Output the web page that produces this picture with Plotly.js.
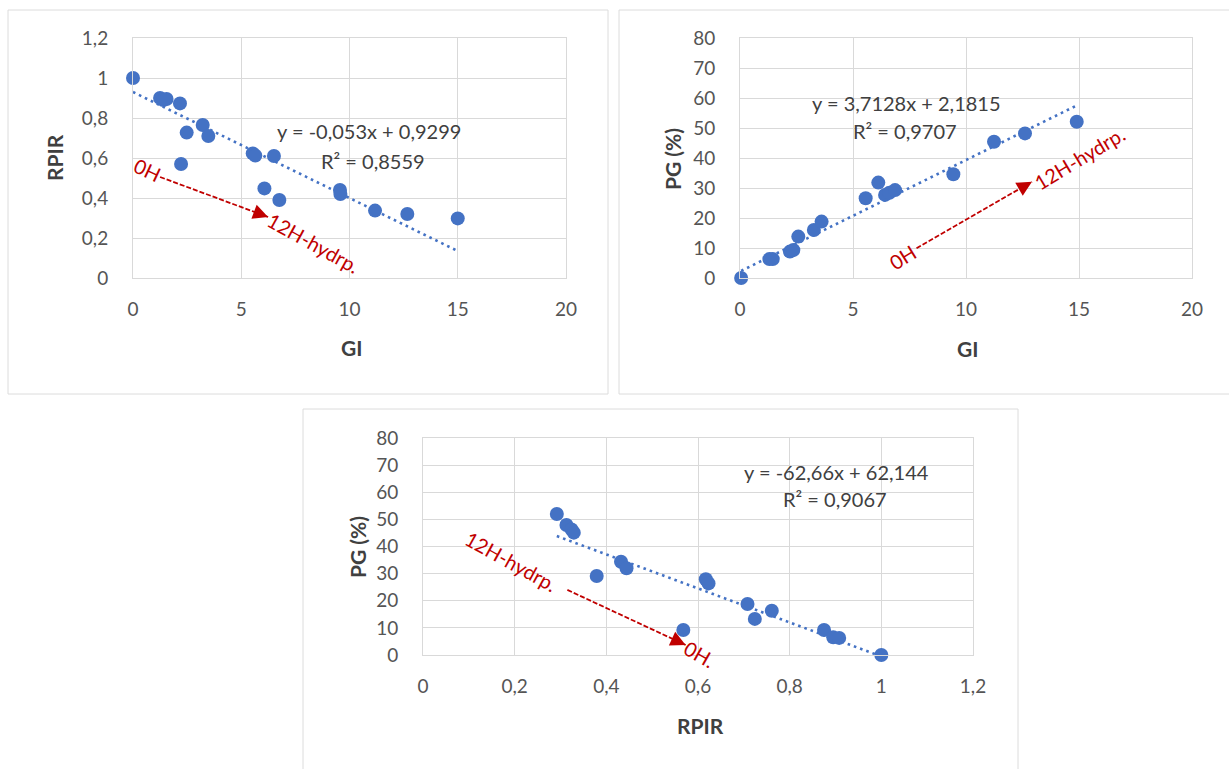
<!DOCTYPE html>
<html>
<head>
<meta charset="utf-8">
<script src="https://cdn.plot.ly/plotly-3.0.1.min.js"></script>
<style>html,body{margin:0;padding:0;background:#fff;}#chart{width:1229px;height:769px;}</style>
</head>
<body>
<div id="chart"></div>
<script>
// ---- Panel 1: GI vs RPIR ----
var gi1 = [0, 1.25, 1.4, 1.55, 2.17, 2.48, 3.22, 3.48, 2.22, 5.53, 5.65, 6.51, 6.07, 6.76, 9.56, 9.58, 11.18, 12.67, 15.0];
var rpir1 = [1.0, 0.9, 0.89, 0.895, 0.873, 0.727, 0.765, 0.71, 0.57, 0.623, 0.612, 0.61, 0.448, 0.39, 0.44, 0.42, 0.337, 0.32, 0.298];
var trend1 = {slope: -0.053, intercept: 0.9299, eq: "y = -0,053x + 0,9299", r2: "R² = 0,8559"};

// ---- Panel 2: GI vs PG ----
var gi2 = [0.05, 1.3, 1.45, 2.21, 2.36, 2.58, 3.27, 3.61, 5.56, 6.12, 6.42, 6.61, 6.86, 9.44, 11.24, 12.61, 14.9];
var pg2 = [0, 6.3, 6.3, 8.8, 9.3, 13.8, 16.0, 18.8, 26.6, 31.8, 27.7, 28.4, 29.3, 34.6, 45.4, 48.2, 52.1];
var trend2 = {slope: 3.7128, intercept: 2.1815, eq: "y = 3,7128x + 2,1815", r2: "R² = 0,9707"};

// ---- Panel 3: RPIR vs PG ----
var rpir3 = [0.292, 0.313, 0.324, 0.329, 0.379, 0.432, 0.444, 0.617, 0.623, 0.568, 0.708, 0.724, 0.761, 0.875, 0.895, 0.908, 1.0];
var pg3 = [52.0, 47.9, 46.3, 45.1, 29.1, 34.4, 32.0, 27.9, 26.4, 9.2, 18.8, 13.3, 16.3, 9.2, 6.5, 6.3, 0];
var trend3 = {slope: -62.66, intercept: 62.144, eq: "y = -62,66x + 62,144", r2: "R² = 0,9067"};

var axisTitles = {p1x: "GI", p1y: "RPIR", p2x: "GI", p2y: "PG (%)", p3x: "RPIR", p3y: "PG (%)"};
var arrowLabels = {start: "0H", end: "12H-hydrp.", endDot: "0H."};

var W = 1229, H = 769;
function px(x){return x / W;}
function py(y){return 1 - y / H;}

var blue = "#4472C4", red = "#C00000", grid = "#d9d9d9";
var FONT = "Lato, 'Open Sans', sans-serif";

function trendLine(xs, t, xa, ya){
  var mn = Math.min.apply(null, xs), mx = Math.max.apply(null, xs);
  return {x:[mn, mx], y:[t.slope*mn + t.intercept, t.slope*mx + t.intercept], xaxis:xa, yaxis:ya,
    mode:"lines", line:{color:blue, width:2.6, dash:"2.6px,4px"}, hoverinfo:"skip", cliponaxis:false};
}
function pts(xs, ys, xa, ya){
  return {x:xs, y:ys, xaxis:xa, yaxis:ya, mode:"markers", type:"scatter",
    marker:{color:blue, size:14}, cliponaxis:false};
}

var data = [
  trendLine(gi1, trend1, "x", "y"), pts(gi1, rpir1, "x", "y"),
  trendLine(gi2, trend2, "x2", "y2"), pts(gi2, pg2, "x2", "y2"),
  trendLine(rpir3, trend3, "x3", "y3"), pts(rpir3, pg3, "x3", "y3")
];

function xax(dom, range, dtick, anchor){
  return {domain:dom, range:range, dtick:dtick, tick0:0, anchor:anchor, showgrid:true, gridcolor:grid, gridwidth:1,
    zeroline:false, showline:true, linecolor:grid, linewidth:1, mirror:true, ticks:"",
    ticklabelstandoff:14, tickfont:{family:FONT, size:19, color:"#555555"}, fixedrange:true};
}
function yax(dom, range, dtick, anchor){
  return {domain:dom, range:range, dtick:dtick, tick0:0, anchor:anchor, showgrid:true, gridcolor:grid, gridwidth:1,
    zeroline:false, showline:true, linecolor:grid, linewidth:1, mirror:true, ticks:"",
    ticklabelstandoff:20, tickfont:{family:FONT, size:19, color:"#555555"}, fixedrange:true};
}

var annotations = [];
function txt(x, y, xr, yr, t, size, color, angle, bold){
  annotations.push({x:x, y:y, xref:xr, yref:yr, text: bold ? "<b>"+t+"</b>" : t, showarrow:false,
    textangle:angle||0, font:{family:FONT, size:size, color:color}, xanchor:"center", yanchor:"middle"});
}
// equations
txt(10.9, 0.737, "x", "y", trend1.eq, 20, "#404040");
txt(11.07, 0.587, "x", "y", trend1.r2, 20, "#404040");
txt(7.38, 58.2, "x2", "y2", trend2.eq, 20, "#404040");
txt(7.32, 49.0, "x2", "y2", trend2.r2, 20, "#404040");
txt(0.903, 67.6, "x3", "y3", trend3.eq, 20, "#404040");
txt(0.898, 57.5, "x3", "y3", trend3.r2, 20, "#404040");
// axis titles
txt(px(351), py(347), "paper", "paper", axisTitles.p1x, 21, "#404040", 0, true);
txt(px(54), py(158), "paper", "paper", axisTitles.p1y, 21, "#404040", -90, true);
txt(px(967), py(348), "paper", "paper", axisTitles.p2x, 21, "#404040", 0, true);
txt(px(672), py(159), "paper", "paper", axisTitles.p2y, 21, "#404040", -90, true);
txt(px(700), py(725), "paper", "paper", axisTitles.p3x, 21, "#404040", 0, true);
txt(px(357), py(547), "paper", "paper", axisTitles.p3y, 21, "#404040", -90, true);
// arrow labels
txt(0.69, 0.54, "x", "y", arrowLabels.start, 20, red, 25);
txt(8.36, 0.175, "x", "y", arrowLabels.end, 20, red, 29);
txt(7.2, 7.1, "x2", "y2", arrowLabels.start, 20, red, -32);
txt(15.03, 39.9, "x2", "y2", arrowLabels.end, 20, red, -31);
txt(0.192, 34.8, "x3", "y3", arrowLabels.end, 20, red, 29);
txt(0.604, 0.4, "x3", "y3", arrowLabels.endDot, 20, red, 30);

var shapes = [];
function arrow(x0, y0, x1, y1, xr, yr){
  shapes.push({type:"line", xref:xr, yref:yr, x0:x0, y0:y0, x1:x1, y1:y1, line:{color:red, width:1.8, dash:"5px,2px"}});
  var f = 0.12;
  annotations.push({x:x1, y:y1, xref:xr, yref:yr, axref:xr, ayref:yr, ax:x1-(x1-x0)*f, ay:y1-(y1-y0)*f,
    text:"", showarrow:true, arrowhead:2, arrowsize:1.5, arrowwidth:2, arrowcolor:red, standoff:0});
}
arrow(1.25, 0.505, 6.24, 0.305, "x", "y");
arrow(7.81, 9.9, 12.92, 32.1, "x2", "y2");
arrow(0.315, 24.0, 0.573, 3.7, "x3", "y3");

function box(x0, y0, x1, y1){
  shapes.push({type:"rect", xref:"paper", yref:"paper", x0:px(x0), x1:px(x1), y0:py(y1), y1:py(y0),
    line:{color:"#dcdcdc", width:1}, fillcolor:"rgba(0,0,0,0)", layer:"below"});
}
box(8, 10, 608, 394);
box(619, 10, 1240, 394);
box(303, 409, 1018, 780);

var layout = {
  width:W, height:H, margin:{l:0, r:0, t:0, b:0}, paper_bgcolor:"#fff", plot_bgcolor:"#fff",
  showlegend:false, separators:", ",
  xaxis: xax([px(133), px(566)], [0, 20], 5, "y"),
  yaxis: yax([py(278), py(38)], [0, 1.2], 0.2, "x"),
  xaxis2: xax([px(740), px(1192)], [0, 20], 5, "y2"),
  yaxis2: yax([py(278), py(38)], [0, 80], 10, "x2"),
  xaxis3: xax([px(423), px(973)], [0, 1.2], 0.2, "y3"),
  yaxis3: yax([py(655), py(438)], [0, 80], 10, "x3"),
  annotations: annotations, shapes: shapes, font:{family:FONT}
};

Plotly.newPlot("chart", data, layout, {staticPlot:true, displayModeBar:false});
</script>
</body>
</html>
